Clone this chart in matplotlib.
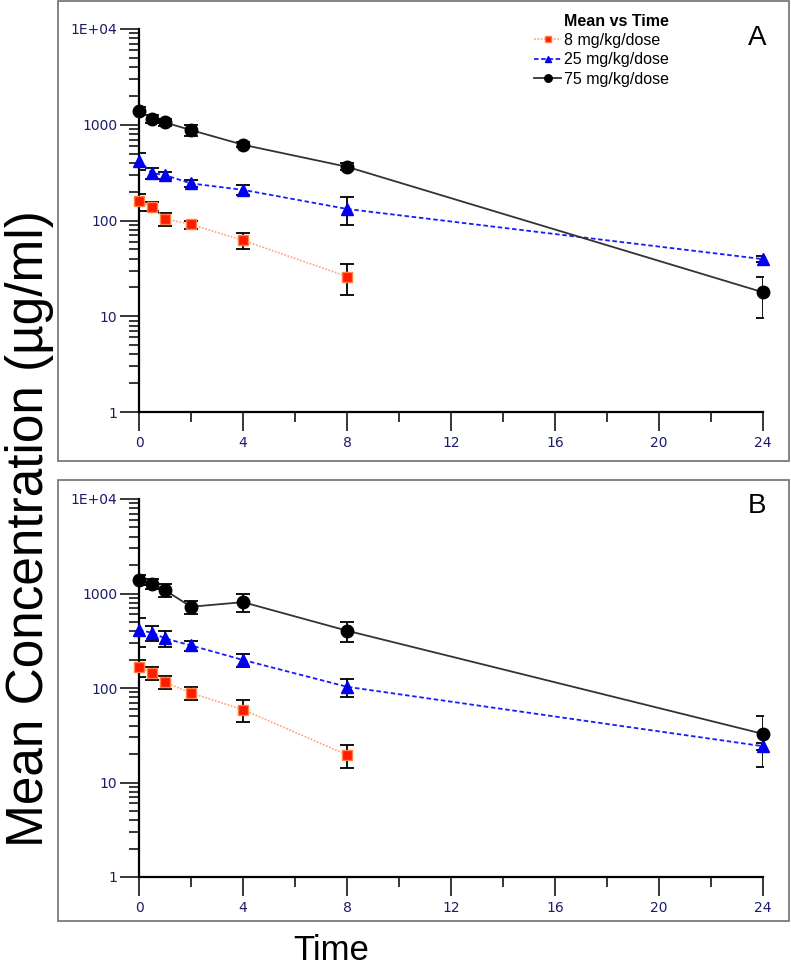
import matplotlib
matplotlib.use("Agg")
import matplotlib.pyplot as plt
from matplotlib.patches import Rectangle
from matplotlib.ticker import MultipleLocator, FixedLocator, FuncFormatter, LogLocator, NullFormatter

# --- data ---
time_8 = [0, 0.5, 1, 2, 4, 8]
time_25 = [0, 0.5, 1, 2, 4, 8, 24]
time_75 = [0, 0.5, 1, 2, 4, 8, 24]

# panel A
a_mean_8 = [158, 140, 104, 91, 62, 26]
a_sd_8 = [32, 15, 16, 9, 12, 9.5]
a_mean_25 = [421, 313, 298, 244, 209, 132, 39.5]
a_sd_25 = [85, 40, 25, 20, 25, 42, 3]
a_mean_75 = [1400, 1155, 1056, 880, 618, 364, 17.8]
a_sd_75 = [140, 117, 90, 113, 35, 30, 8.2]

# panel B
b_mean_8 = [165, 145, 115, 88.6, 59, 19.6]
b_sd_8 = [35, 23, 18, 14, 15, 5.5]
b_mean_25 = [410, 385, 335, 282, 198, 103, 24.2]
b_sd_25 = [140, 72, 62, 36, 31, 22, 2]
b_mean_75 = [1405, 1266, 1084, 724, 810, 404, 32.7]
b_sd_75 = [180, 147, 170, 114, 174, 99, 18]

dose_labels = ["8 mg/kg/dose", "25 mg/kg/dose", "75 mg/kg/dose"]
y_ticks = [1, 10, 100, 1000, 10000]
y_tick_labels = ["1", "10", "100", "1000", "1E+04"]
x_max = 24

W, H = 791, 967
SANS = "Liberation Sans"
TICK_COLOR = "#1c1c6a"


def px_rect(x0, y0, x1, y1):
    """pixel box -> figure fraction rect"""
    return [x0 / W, 1 - y1 / H, (x1 - x0) / W, (y1 - y0) / H]


def draw_panel(ax, mean8, sd8, mean25, sd25, mean75, sd75):
    styles = [
        (time_8, mean8, sd8, dict(color="#ffa07a", ls=(0, (1, 1)), lw=1.2,
                                  marker="s", ms=7, mfc="#ff1a00", mec="#ff8040")),
        (time_25, mean25, sd25, dict(color="#1a1aff", ls=(0, (2.5, 1.5)), lw=1.3,
                                     marker="^", ms=8, mfc="#0000ee", mec="#0000ee")),
        (time_75, mean75, sd75, dict(color="#333333", ls="-", lw=1.3,
                                     marker="o", ms=9, mfc="black", mec="black")),
    ]
    handles = []
    for t, m, s, st in styles:
        ax.errorbar(t, m, yerr=s, fmt="none", ecolor="black", elinewidth=1.3,
                    capsize=5, capthick=1.3, zorder=2)
        h, = ax.plot(t, m, zorder=3, clip_on=False, **st)
        handles.append(h)

    ax.set_yscale("log")
    ax.set_ylim(1, 10000)
    ax.set_xlim(0, x_max)

    ax.yaxis.set_major_locator(FixedLocator(y_ticks))
    ax.yaxis.set_major_formatter(FuncFormatter(lambda v, p: y_tick_labels[y_ticks.index(round(v))] if round(v) in y_ticks else ""))
    ax.yaxis.set_minor_locator(LogLocator(base=10, subs=range(2, 10)))
    ax.yaxis.set_minor_formatter(NullFormatter())
    ax.xaxis.set_major_locator(MultipleLocator(4))
    ax.xaxis.set_minor_locator(MultipleLocator(2))

    for side in ["top", "right"]:
        ax.spines[side].set_visible(False)
    for side in ["left", "bottom"]:
        ax.spines[side].set_linewidth(1.6)

    ax.tick_params(which="major", direction="out", length=13.5, width=1.1,
                   labelsize=10, labelcolor=TICK_COLOR, pad=2)
    ax.tick_params(which="minor", direction="out", length=7, width=1.1)
    ax.tick_params(axis="x", which="major", pad=4)
    ax.set_facecolor("none")
    return handles


fig = plt.figure(figsize=(W / 100, H / 100), dpi=100)

# panel frames
for y0, y1 in [(1, 461), (480, 921)]:
    fig.patches.append(Rectangle((58 / W, 1 - y1 / H), (789 - 58) / W, (y1 - y0) / H,
                                 transform=fig.transFigure, fill=False,
                                 edgecolor="#6e6e6e", lw=1.2))

ax_a = fig.add_axes(px_rect(139, 29, 763, 412))
ax_b = fig.add_axes(px_rect(139, 499, 763, 877))

handles = draw_panel(ax_a, a_mean_8, a_sd_8, a_mean_25, a_sd_25, a_mean_75, a_sd_75)
draw_panel(ax_b, b_mean_8, b_sd_8, b_mean_25, b_sd_25, b_mean_75, b_sd_75)

# legend
fig.text(616 / W, 1 - 22 / H, "Mean vs Time", ha="center", va="center",
         fontsize=11.5, fontweight="bold", family=SANS)
fig.legend(handles, dose_labels, loc="upper left",
           bbox_to_anchor=(534 / W, 1 - 33 / H), frameon=False,
           prop={"family": SANS, "size": 11.5},
           handlelength=1.7, handletextpad=0.15, labelspacing=0.28,
           borderpad=0, borderaxespad=0, markerscale=0.6)

fig.text(757 / W, 1 - 38 / H, "A", ha="center", va="center", fontsize=20,
         family=SANS)
fig.text(757 / W, 1 - 506 / H, "B", ha="center", va="center", fontsize=20,
         family=SANS)

fig.text(30 / W, 1 - 529 / H, "Mean Concentration (\u00b5g/ml)", rotation=90,
         ha="center", va="center", fontsize=37, family=SANS)
fig.text(331 / W, 1 - 951 / H, "Time", ha="center", va="center", fontsize=25,
         family=SANS)

fig.savefig("out.png", dpi=100)
